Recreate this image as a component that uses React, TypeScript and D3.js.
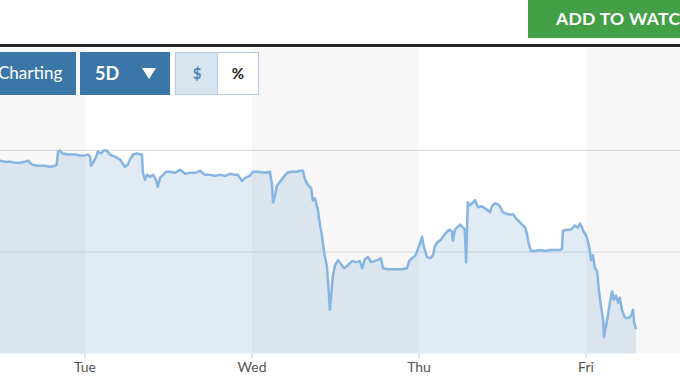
import React from "react";
import * as d3 from "d3";

// minutes after the open, and price, per trading day
const monMinutes = [191, 203, 215, 226, 238, 250, 257, 261, 268, 280, 296, 308, 320, 324, 327, 331, 338, 350, 367, 378, 389];
const monPrices = [30.90, 30.89, 30.89, 30.88, 30.88, 30.89, 30.90, 30.88, 30.86, 30.85, 30.85, 30.84, 30.85, 30.86, 30.99, 31.00, 30.97, 30.96, 30.96, 30.95, 30.95];

const tueMinutes = [7, 12, 14, 19, 26, 30, 37, 44, 51, 58, 70, 82, 93, 100, 105, 112, 121, 133, 135, 140, 145, 152, 159, 166, 170, 175, 182, 189, 198, 210, 222, 234, 245, 257, 269, 280, 292, 304, 315, 327, 339, 350, 357, 367, 374, 385];
const tuePrices = [30.96, 30.94, 30.85, 30.88, 30.94, 30.99, 30.97, 31.00, 31.00, 30.96, 30.94, 30.91, 30.84, 30.86, 30.91, 30.96, 30.97, 30.96, 30.79, 30.71, 30.76, 30.74, 30.76, 30.71, 30.64, 30.73, 30.76, 30.79, 30.79, 30.78, 30.81, 30.77, 30.78, 30.78, 30.80, 30.76, 30.76, 30.75, 30.76, 30.75, 30.77, 30.76, 30.76, 30.70, 30.73, 30.75];

const wedMinutes = [2, 14, 30, 42, 47, 49, 54, 58, 65, 72, 82, 93, 103, 112, 119, 124, 131, 138, 142, 147, 154, 159, 163, 166, 170, 175, 177, 182, 187, 189, 194, 201, 208, 215, 224, 234, 243, 252, 257, 264, 271, 278, 287, 297, 301, 306, 318, 334, 350, 362, 367, 374, 381, 385];
const wedPrices = [30.79, 30.79, 30.78, 30.79, 30.65, 30.49, 30.56, 30.65, 30.69, 30.73, 30.78, 30.79, 30.79, 30.80, 30.80, 30.71, 30.66, 30.63, 30.51, 30.53, 30.41, 30.26, 30.17, 30.07, 29.96, 29.86, 29.74, 29.43, 29.68, 29.77, 29.87, 29.92, 29.88, 29.84, 29.87, 29.91, 29.90, 29.91, 29.84, 29.93, 29.95, 29.90, 29.91, 29.93, 29.94, 29.84, 29.83, 29.83, 29.83, 29.84, 29.91, 29.94, 29.96, 30.00];

const thuMinutes = [2, 7, 12, 19, 26, 33, 37, 44, 51, 61, 68, 72, 77, 79, 84, 91, 96, 103, 107, 110, 114, 119, 126, 131, 138, 147, 154, 161, 166, 170, 177, 184, 189, 196, 208, 220, 227, 234, 241, 248, 252, 257, 262, 271, 283, 294, 306, 318, 329, 334, 336, 346, 355, 364, 371, 376, 381, 385, 389];
const thuPrices = [30.08, 30.15, 30.04, 29.95, 29.94, 29.97, 30.06, 30.10, 30.12, 30.18, 30.21, 30.22, 30.20, 30.11, 30.22, 30.25, 30.27, 30.24, 30.22, 29.90, 30.49, 30.46, 30.49, 30.51, 30.44, 30.45, 30.43, 30.41, 30.39, 30.45, 30.48, 30.47, 30.45, 30.39, 30.37, 30.37, 30.33, 30.30, 30.27, 30.24, 30.18, 30.07, 30.01, 30.01, 30.02, 30.01, 30.02, 30.02, 30.02, 30.03, 30.21, 30.22, 30.22, 30.26, 30.24, 30.28, 30.24, 30.20, 30.17];

const friMinutes = [2, 7, 12, 16, 21, 26, 30, 35, 40, 42, 47, 51, 56, 61, 65, 70, 75, 79, 84, 89, 93, 100, 105, 110, 112, 117];
const friPrices = [30.14, 30.06, 29.92, 29.97, 29.84, 29.81, 29.63, 29.47, 29.33, 29.16, 29.28, 29.37, 29.51, 29.61, 29.53, 29.57, 29.50, 29.55, 29.43, 29.37, 29.35, 29.35, 29.37, 29.43, 29.31, 29.24];

const dayLabels = ["Mon", "Tue", "Wed", "Thu", "Fri"];
const gridPrices = [30, 31];
const SESSION = 390;

const days = [
  [monMinutes, monPrices],
  [tueMinutes, tuePrices],
  [wedMinutes, wedPrices],
  [thuMinutes, thuPrices],
  [friMinutes, friPrices],
];

type Pt = { t: number; p: number };
const points: Pt[] = [];
days.forEach(([mins, prices], d) => {
  mins.forEach((m, i) => points.push({ t: d * SESSION + m, p: prices[i] }));
});

const W = 680;
const H = 383;

export default function App() {
  const x = d3.scaleLinear().domain([0, 5 * SESSION]).range([-82, 753]);
  const y = d3.scaleLinear().domain([29, 31]).range([353.5, 150.5]);
  const plotTop = 48;
  const plotBottom = y(29);

  const line = d3.line<Pt>().x((d) => x(d.t)).y((d) => y(d.p));
  const area = d3
    .area<Pt>()
    .x((d) => x(d.t))
    .y0(plotBottom)
    .y1((d) => y(d.p));

  const font = "Lato, 'Open Sans', sans-serif";

  return (
    <div style={{ width: W, height: H, overflow: "hidden" }}>
      <style>{`body{margin:0;background:#fff}`}</style>
      <svg width={W} height={H} style={{ display: "block" }}>
        {/* day bands */}
        {dayLabels.map((lab, d) =>
          d % 2 === 0 ? (
            <rect
              key={lab}
              x={x(d * SESSION)}
              y={plotTop}
              width={x(SESSION) - x(0)}
              height={plotBottom - plotTop}
              fill="#f7f7f7"
            />
          ) : null
        )}
        {/* gridlines */}
        {gridPrices.map((g) => (
          <line key={g} x1={0} x2={W} y1={y(g)} y2={y(g)} stroke="#d8d8d8" strokeWidth={1} />
        ))}
        <path d={area(points) || ""} fill="rgba(135,175,207,0.25)" />
        <path d={line(points) || ""} fill="none" stroke="#86b5e3" strokeWidth={2.5} strokeLinejoin="round" />
        {/* x axis ticks */}
        {dayLabels.map((lab, d) =>
          d > 0 ? (
            <g key={lab} transform={`translate(${x(d * SESSION)},0)`}>
              <line y1={plotBottom} y2={plotBottom + 5} stroke="#ccc" />
              <text
                y={plotBottom + 18}
                textAnchor="middle"
                fontFamily={font}
                fontSize={14}
                fill="#555"
              >
                {lab}
              </text>
            </g>
          ) : null
        )}
        {/* header */}
        <rect x={528} y={0} width={160} height={38} fill="#43a047" />
        <text x={556} y={25} fontFamily={font} fontWeight={700} fontSize={17.5} fill="#fff" letterSpacing={0.3}>
          ADD TO WATCHLIST
        </text>
        <rect x={0} y={44} width={W} height={3} fill="#262626" />
        {/* controls */}
        <rect x={-10} y={52} width={86} height={43} fill="#3a77a8" />
        <text x={-2} y={79} fontFamily={font} fontSize={17} fill="#fff">
          Charting
        </text>
        <rect x={80} y={52} width={90} height={43} fill="#3a77a8" />
        <text x={95} y={80} fontFamily={font} fontWeight={700} fontSize={18} fill="#fff">
          5D
        </text>
        <path d="M142,68 L156,68 L149,79 Z" fill="#fff" />
        <rect x={175.5} y={52.5} width={42} height={42} fill="#d6e4f0" stroke="#b3cce3" />
        <rect x={217.5} y={52.5} width={41} height={42} fill="#fff" stroke="#b3cce3" />
        <text x={197} y={79} textAnchor="middle" fontFamily={font} fontWeight={700} fontSize={15} fill="#4a86b8">
          $
        </text>
        <text x={238} y={79} textAnchor="middle" fontFamily={font} fontWeight={700} fontSize={15} fill="#222">
          %
        </text>
      </svg>
    </div>
  );
}
